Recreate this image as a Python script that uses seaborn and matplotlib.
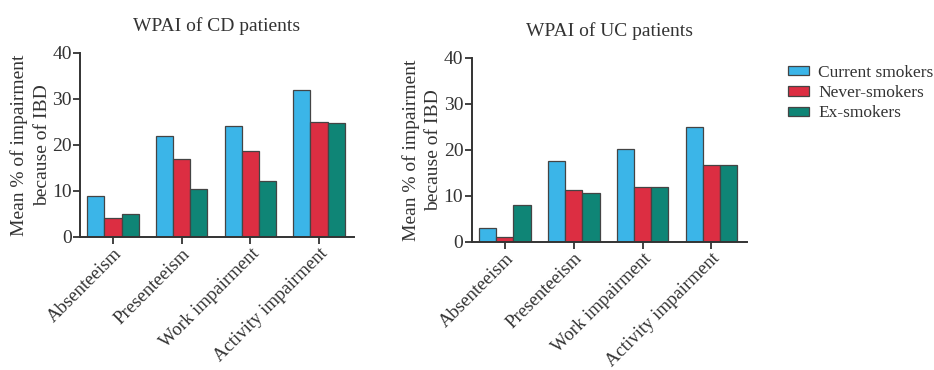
import seaborn as sns
import matplotlib.pyplot as plt
import pandas as pd

# categories and groups
measures = ["Absenteeism", "Presenteeism", "Work impairment", "Activity impairment"]
groups = ["Current smokers", "Never-smokers", "Ex-smokers"]

# mean % impairment, CD patients
cd_current = [9.0, 22.0, 24.2, 31.9]
cd_never = [4.1, 17.0, 18.7, 25.0]
cd_ex = [5.0, 10.4, 12.2, 24.8]

# mean % impairment, UC patients
uc_current = [3.0, 17.6, 20.1, 24.9]
uc_never = [1.0, 11.3, 12.0, 16.7]
uc_ex = [8.0, 10.7, 12.0, 16.7]

colors = ["#3BB5E8", "#DC2E42", "#0F8576"]
text_col = "#333333"


def to_long(cur, nev, ex):
    rows = []
    for g, vals in zip(groups, [cur, nev, ex]):
        for m, v in zip(measures, vals):
            rows.append({"measure": m, "group": g, "value": v})
    return pd.DataFrame(rows)


cd_df = to_long(cd_current, cd_never, cd_ex)
uc_df = to_long(uc_current, uc_never, uc_ex)

sns.set_style("ticks")
plt.rcParams['font.family'] = ['Liberation Serif', 'DejaVu Serif']
plt.rcParams['text.color'] = text_col
plt.rcParams['axes.labelcolor'] = text_col
plt.rcParams['xtick.color'] = text_col
plt.rcParams['ytick.color'] = text_col

fig = plt.figure(figsize=(9.34, 3.70), dpi=100)
ax1 = fig.add_axes([0.0857, 0.3595, 0.2934, 0.4973])
ax2 = fig.add_axes([0.505, 0.3468, 0.2944, 0.4965])

for ax, df, title in [(ax1, cd_df, "WPAI of CD patients"),
                      (ax2, uc_df, "WPAI of UC patients")]:
    sns.barplot(data=df, x="measure", y="value", hue="group",
                hue_order=groups, order=measures, palette=colors,
                width=0.75, edgecolor="#444444", linewidth=0.9,
                saturation=1, ax=ax)
    ax.set_xlim(-0.48, 3.51)
    ax.set_ylim(0, 40)
    ax.set_yticks([0, 10, 20, 30, 40])
    ax.set_title(title, fontsize=14, pad=16, color=text_col)
    ax.set_xlabel("")
    ax.set_ylabel("Mean % of impairment\nbecause of IBD", fontsize=14,
                  linespacing=1.4, labelpad=1)
    ax.tick_params(axis="y", labelsize=14, length=5, width=1.3, pad=1)
    ax.tick_params(axis="x", length=5, width=1.3, pad=1)
    for lab in ax.get_xticklabels():
        lab.set_rotation(45)
        lab.set_ha("right")
        lab.set_rotation_mode("anchor")
        lab.set_fontsize(13.5)
    for s in ["left", "bottom"]:
        ax.spines[s].set_linewidth(1.4)
        ax.spines[s].set_color(text_col)
    sns.despine(ax=ax)
    ax.get_legend().remove()

handles, labels = ax2.get_legend_handles_labels()
fig.legend(handles, labels, loc="upper left", bbox_to_anchor=(0.8437, 0.825),
           frameon=False, fontsize=12.5, handlelength=1.2, handleheight=0.45,
           handletextpad=0.55, labelspacing=0.25, borderpad=0,
           borderaxespad=0)

fig.savefig("out.png", dpi=100)
